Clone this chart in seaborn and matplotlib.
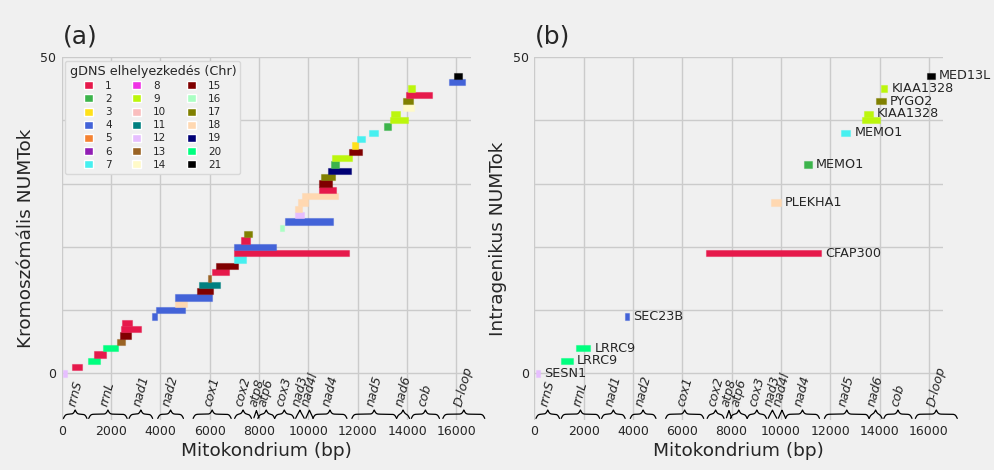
import numpy as np
import matplotlib
matplotlib.use("Agg")
import matplotlib.pyplot as plt
from matplotlib.patches import Patch
import seaborn as sns

# NUMT fragments, one per row (row index = position in these lists)
starts = [60, 430, 1080, 1310, 1690, 2230, 2365, 2405, 2460, 3665,
          3815, 4600, 4600, 5475, 5570, 5920, 6085, 6260, 6980, 6965,
          7000, 7275, 7370, 8855, 9030, 9465, 9465, 9585, 9750, 10425,
          10425, 10510, 10775, 10925, 10965, 11655, 11780, 11980, 12440, 13075,
          13290, 13350, 13835, 13835, 13970, 14035, 15685, 15915]
ends = [220, 810, 1555, 1785, 2270, 2570, 2810, 3215, 2865, 3855,
        5000, 5070, 6110, 6150, 6420, 6045, 6790, 7165, 7480, 11630,
        8695, 7640, 7720, 9005, 11005, 9840, 9750, 9990, 11210, 11115,
        10955, 11090, 11735, 11240, 11780, 12155, 12010, 12280, 12805, 13350,
        14020, 13725, 14280, 14240, 15010, 14305, 16360, 16240]
chroms = [12, 1, 20, 1, 20, 13, 15, 1, 1, 4,
          4, 18, 4, 15, 11, 13, 1, 15, 7, 1,
          4, 1, 17, 16, 4, 12, 18, 18, 18, 1,
          15, 17, 19, 2, 9, 15, 3, 7, 7, 2,
          9, 9, 14, 17, 1, 9, 4, 21]

# intragenic NUMTs (rows) and the nuclear gene they fall in
intra_rows = [0, 2, 4, 9, 19, 27, 33, 38, 40, 41, 43, 45, 47]
intra_genes = ["SESN1", "LRRC9", "LRRC9", "SEC23B", "CFAP300", "PLEKHA1",
               "MEMO1", "MEMO1", "", "KIAA1328", "PYGO2", "KIAA1328", "MED13L"]

# mitochondrial genes (bp, shifted coordinates)
mt_genes = ["rrnS", "rrnL", "nad1", "nad2", "cox1", "cox2", "atp8", "atp6",
            "cox3", "nad3", "nad4l", "nad4", "nad5", "nad6", "cob", "D-loop"]
mt_start = [71, 1094, 2730, 3893, 5327, 7009, 7789, 7950,
            8630, 9482, 9893, 10183, 11760, 13572, 14170, 15447]
mt_end = [1024, 2652, 3685, 4934, 6868, 7692, 7995, 8630,
          9413, 9827, 10189, 11560, 13571, 14096, 15310, 17145]

chrom_labels = [str(i) for i in range(1, 22)]
chrom_colors = ["#e6194b", "#3cb44b", "#ffe119", "#4363d8", "#f58231", "#911eb4",
                "#46f0f0", "#f032e6", "#bcf60c", "#fabebe", "#008080", "#e6beff",
                "#9a6324", "#fffac8", "#800000", "#aaffc3", "#808000", "#ffd8b1",
                "#000075", "#00ff7f", "#000000"]

BG = "#f0f0f0"
sns.set_theme(style="whitegrid", rc={
    "axes.facecolor": BG, "figure.facecolor": BG, "savefig.facecolor": BG,
    "grid.color": "#cbcbcb", "grid.linewidth": 1.0,
    "axes.edgecolor": BG, "axes.linewidth": 0,
    "xtick.major.size": 0, "ytick.major.size": 0,
})
plt.rcParams["font.family"] = ["DejaVu Sans"]
palette = dict(zip(range(1, 22), sns.color_palette(chrom_colors)))

fig = plt.figure(figsize=(9.95, 4.7), dpi=100)
ax_a = fig.add_axes([0.062, 0.1064, 0.4109, 0.7723])
ax_b = fig.add_axes([0.5369, 0.1064, 0.4109, 0.7723])

XMAX = 16569
YBOT = -7.35


def brace(ax, x0, x1, ybase, h, beta=0.025):
    mid = (x0 + x1) / 2.0
    half = np.linspace(x0, mid, 200)
    yh = 1 / (1 + np.exp(-beta * (half - x0))) + 1 / (1 + np.exp(-beta * (half - mid)))
    xs = np.concatenate([half, (2 * mid - half)[::-1]])
    ys = np.concatenate([yh, yh[::-1]]) - 0.5
    ax.plot(xs, ybase + h * ys, color="black", lw=0.9, clip_on=False, zorder=3)


def style_axes(ax, ylabel):
    ax.set_xlim(0, XMAX)
    ax.set_ylim(YBOT, 50)
    ax.set_xticks(range(0, 16001, 2000))
    ax.set_yticks(range(0, 51, 10))
    ax.set_yticklabels(["0", "", "", "", "", "50"])
    ax.tick_params(axis="x", labelsize=9, pad=3.5)
    ax.tick_params(axis="y", labelsize=9, pad=4)
    ax.set_axisbelow(True)
    ax.grid(True)
    for s in ax.spines.values():
        s.set_visible(False)
    ax.set_xlabel("Mitokondrium (bp)", fontsize=13.3, labelpad=3)
    ax.set_ylabel(ylabel, fontsize=13.3)
    for g, s0, s1 in zip(mt_genes, mt_start, mt_end):
        brace(ax, s0, s1, -7.1, 1.33)
        ax.text((s0 + s1) / 2.0, -5.45, g, rotation=75, ha="center", va="bottom",
                fontsize=9, fontstyle="italic", clip_on=False, zorder=4)


def draw_bars(ax, rows):
    for r in rows:
        c = palette[chroms[r]]
        ax.barh(r, ends[r] - starts[r], left=starts[r], height=1.0,
                color=c, edgecolor=(*c, 0.45), linewidth=0.8, zorder=2)


# (a) all NUMTs
draw_bars(ax_a, range(len(starts)))
style_axes(ax_a, "Kromoszómális NUMTok")
handles = [Patch(facecolor=palette[i + 1], label=lab) for i, lab in enumerate(chrom_labels)]
leg = ax_a.legend(handles=handles, ncol=3, loc="upper left", bbox_to_anchor=(0, 1),
                  title="gDNS elhelyezkedés (Chr)", fontsize=7.5, title_fontsize=9.2,
                  handlelength=0.8, handleheight=0.8, handletextpad=1.2,
                  columnspacing=2.0, labelspacing=0.3, borderaxespad=0.35,
                  frameon=True, facecolor=BG, edgecolor="#d8d8d8", framealpha=1.0)

# (b) intragenic NUMTs with gene names
draw_bars(ax_b, intra_rows)
for r, g in zip(intra_rows, intra_genes):
    if g:
        ax_b.annotate(g, xy=(ends[r], r), xytext=(3, 0), textcoords="offset points",
                      ha="left", va="center", fontsize=9.2, zorder=5)
style_axes(ax_b, "Intragenikus NUMTok")

fig.text(0.0633, 0.923, "(a)", fontsize=18, va="center", ha="left")
fig.text(0.538, 0.923, "(b)", fontsize=18, va="center", ha="left")

fig.savefig("out.png", dpi=100)
